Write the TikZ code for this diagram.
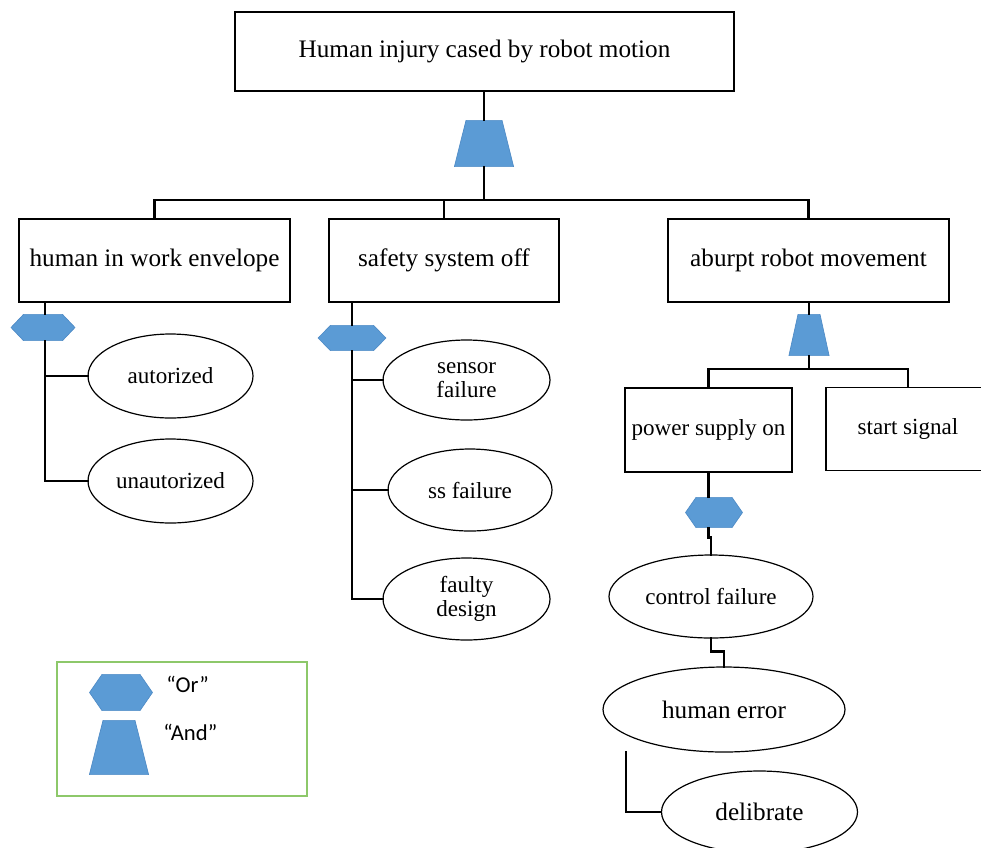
\documentclass[tikz,border=0pt]{standalone}
\usepackage{fontspec}
\setmainfont{Liberation Serif}
\newfontfamily\legendfont{Carlito}
\usetikzlibrary{shapes.geometric}

\definecolor{gatefill}{HTML}{5B9BD5}
\definecolor{gateline}{HTML}{4F8BC6}
\definecolor{legendgreen}{HTML}{8DC86A}

\tikzset{
  event/.style={draw, line width=0.9pt, rectangle, inner sep=0pt,
    font=\fontsize{18.9}{20}\selectfont},
  subevent/.style={event, font=\fontsize{17.3}{18}\selectfont},
  cause/.style={draw, line width=0.9pt, ellipse, inner sep=0pt,
    align=center, font=\fontsize{17.3}{18}\selectfont},
  bigcause/.style={cause, font=\fontsize{18.9}{20}\selectfont},
  conn/.style={line width=2.2pt, line cap=rect},
  % "and" gate: trapezium narrow at the top, #1 = inset of each top corner
  andgate/.style={rectangle, inner sep=0pt, draw=none,
    path picture={
      \fill[gatefill, draw=gateline, line width=0.5pt]
        ([shift={(0.3pt,0.3pt)}]path picture bounding box.south west)
        -- ([shift={(#1,-0.3pt)}]path picture bounding box.north west)
        -- ([shift={(-#1,-0.3pt)}]path picture bounding box.north east)
        -- ([shift={(-0.3pt,0.3pt)}]path picture bounding box.south east)
        -- cycle;}},
  % "or" gate: flat hexagon, #1 = inset of the top and bottom corners
  orgate/.style={rectangle, inner sep=0pt, draw=none,
    path picture={
      \fill[gatefill, draw=gateline, line width=0.5pt]
        ([xshift=0.4pt]path picture bounding box.west)
        -- ([shift={(#1,-0.3pt)}]path picture bounding box.north west)
        -- ([shift={(-#1,-0.3pt)}]path picture bounding box.north east)
        -- ([xshift=-0.4pt]path picture bounding box.east)
        -- ([shift={(-#1,0.3pt)}]path picture bounding box.south east)
        -- ([shift={(#1,0.3pt)}]path picture bounding box.south west)
        -- cycle;}},
}

\begin{document}
\begin{tikzpicture}[x=0.75pt, y=-0.75pt]
\useasboundingbox (0,0) rectangle (981,847);

% top event
\node[event, minimum width=499*0.75pt, minimum height=79*0.75pt] (top) at (484.5,51.5)
  {Human injury cased by robot motion};
\node[andgate=12*0.75pt, minimum width=60*0.75pt, minimum height=47*0.75pt] (g0) at (484,143.5) {};

% second level events
\node[event, minimum width=271*0.75pt, minimum height=83*0.75pt] (b1) at (154.5,260.5)
  {human in work envelope};
\node[event, minimum width=230*0.75pt, minimum height=83*0.75pt] (b2) at (444,260.5)
  {safety system off};
\node[event, minimum width=281*0.75pt, minimum height=83*0.75pt] (b3) at (808.5,260.5)
  {aburpt robot movement};

\coordinate (bar) at (484,200);
\draw[conn] (top.south -| bar) -- (g0.north);
\draw[conn] (g0.south) -- (bar);
\draw[conn] (b1.north) |- (bar) -| (b3.north);
\draw[conn] (b2.north) |- (bar);

% left branch
\node[orgate=13*0.75pt, minimum width=65*0.75pt, minimum height=27*0.75pt] (g1) at (43,327.5) {};
\node[cause, minimum width=165*0.75pt, minimum height=84*0.75pt] (e1) at (170.5,376) {autorized};
\node[cause, minimum width=165*0.75pt, minimum height=84*0.75pt] (e2) at (170.5,481) {unautorized};
\coordinate (s1) at (45,0);
\draw[conn] (b1.south -| s1) -- (g1.north -| s1);
\draw[conn] (g1.south -| s1) |- (e1.west);
\draw[conn] (g1.south -| s1) |- (e2.west);

% middle branch
\node[orgate=13*0.75pt, minimum width=69*0.75pt, minimum height=26*0.75pt] (g2) at (352,338) {};
\node[cause, minimum width=167*0.75pt, minimum height=80*0.75pt] (e3) at (466.5,380) {sensor\\failure};
\node[cause, minimum width=164*0.75pt, minimum height=82*0.75pt] (e4) at (470,490) {ss failure};
\node[cause, minimum width=167*0.75pt, minimum height=82*0.75pt] (e5) at (466.5,599) {faulty\\design};
\draw[conn] (b2.south -| g2) -- (g2.north);
\draw[conn] (g2.south) |- (e3.west);
\draw[conn] (g2.south) |- (e4.west);
\draw[conn] (g2.south) |- (e5.west);

% right branch
\node[andgate=9.5*0.75pt, minimum width=41*0.75pt, minimum height=42*0.75pt] (g3) at (809,335) {};
\node[subevent, minimum width=167*0.75pt, minimum height=84*0.75pt] (b4) at (708.5,430)
  {power supply on};
\node[subevent, minimum width=164*0.75pt, minimum height=83*0.75pt] (b5) at (908,429)
  {start signal};
\coordinate (bar2) at (809,369);
\draw[conn] (b3.south -| g3) -- (g3.north);
\draw[conn] (g3.south) -- (bar2);
\draw[conn] (b4.north) |- (bar2) -| (b5.north);

\node[orgate=11*0.75pt, minimum width=58*0.75pt, minimum height=31*0.75pt] (g4) at (714,512.5) {};
\node[cause, minimum width=204*0.75pt, minimum height=83*0.75pt] (e6) at (711,596.5) {control failure};
\node[bigcause, minimum width=242*0.75pt, minimum height=85*0.75pt] (e7) at (724,709.5) {human error};
\node[bigcause, minimum width=196*0.75pt, minimum height=82*0.75pt] (e8) at (759.5,812) {delibrate};
\coordinate (d0) at (626,752);
\draw[conn] (b4.south) -- (b4.south |- g4.north);
\draw[conn] (b4.south |- g4.south) -- ++(0,9) -| (e6.north);
\draw[conn] (e6.south) -- ++(0,13) -| (e7.north);
\draw[conn] (d0) |- (e8.west);

% legend
\node[draw=legendgreen, line width=0.9pt, minimum width=250*0.75pt, minimum height=134*0.75pt,
  inner sep=0pt] (legend) at (182,729) {};
\node[orgate=13*0.75pt, minimum width=64*0.75pt, minimum height=37*0.75pt] (lor) at (121,692.5) {};
\node[andgate=14*0.75pt, minimum width=60*0.75pt, minimum height=55*0.75pt] (land) at (119,747.5) {};
\node[font=\legendfont\fontsize{17}{18}\selectfont, anchor=west, inner sep=0pt] (tor) at (166,684) {“Or”};
\node[font=\legendfont\fontsize{17}{18}\selectfont, anchor=west, inner sep=0pt] (tand) at (163,732) {“And”};
\end{tikzpicture}
\end{document}
